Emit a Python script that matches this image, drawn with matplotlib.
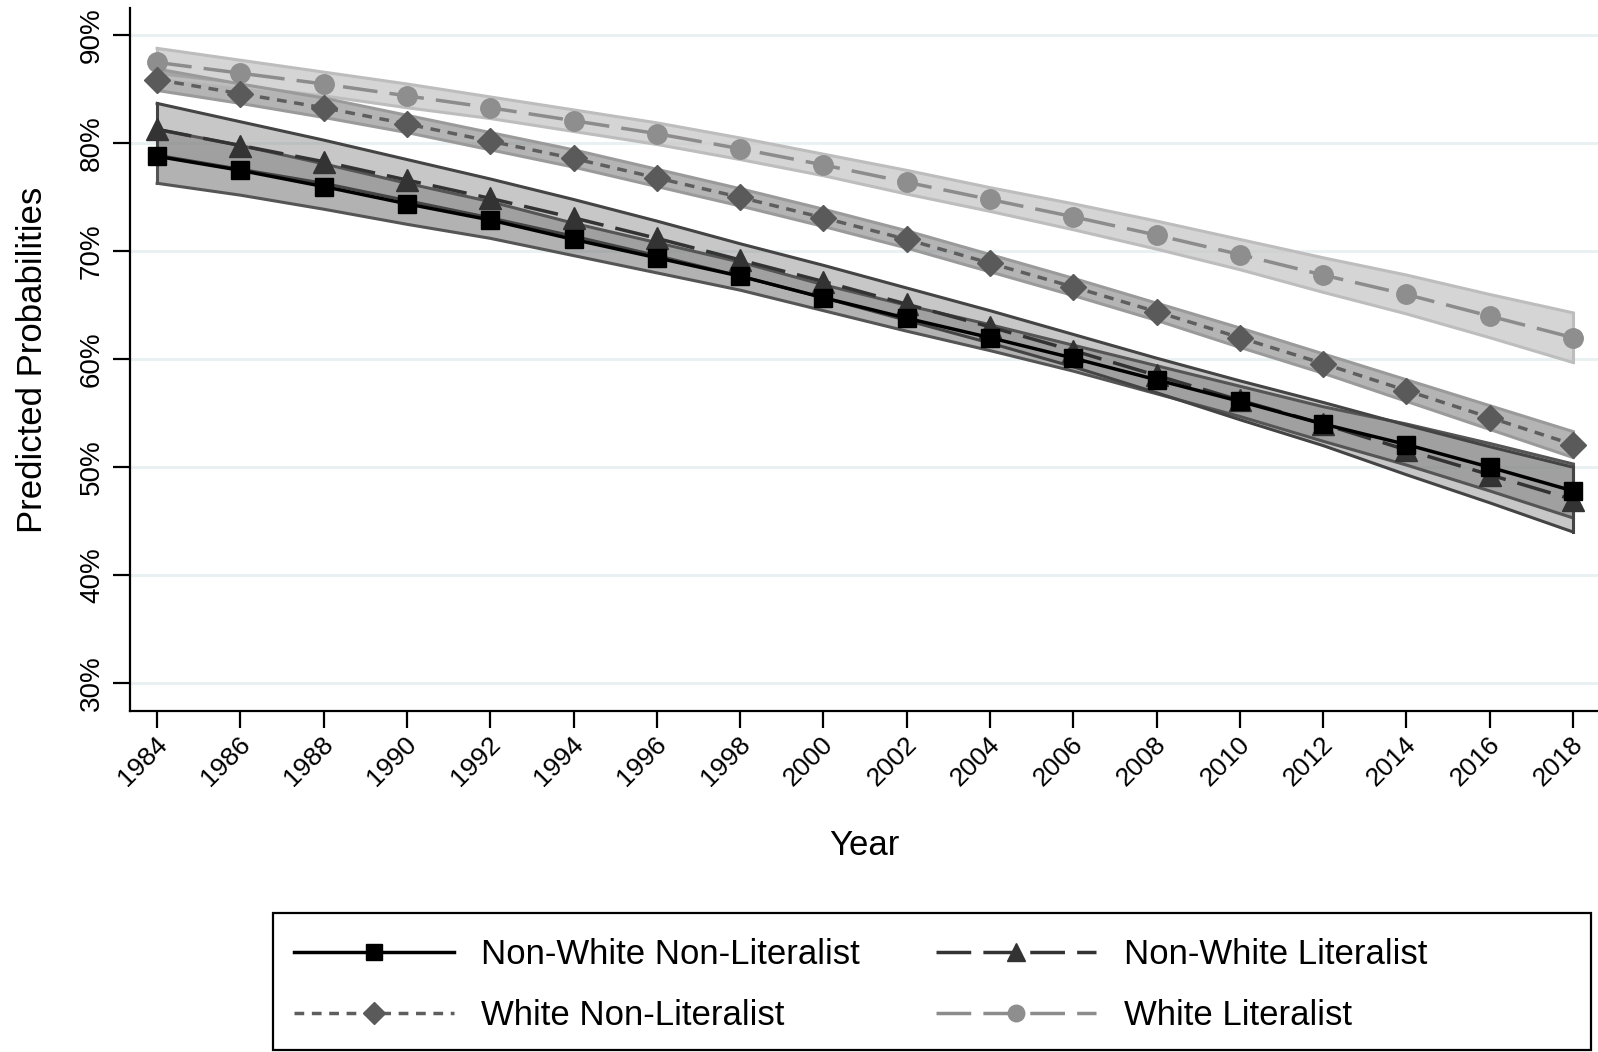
import numpy as np
import matplotlib.pyplot as plt
from matplotlib.patches import Rectangle
from matplotlib.ticker import FuncFormatter
from matplotlib.transforms import ScaledTranslation

plt.rcParams['font.family'] = ['Liberation Sans', 'DejaVu Sans']

years = list(range(1984, 2019, 2))

# predicted probabilities (%) by group
nw_nonlit = [78.8, 77.5, 76.0, 74.4, 72.9, 71.1, 69.4, 67.7, 65.7,
             63.8, 62.0, 60.1, 58.1, 56.1, 54.0, 52.1, 50.0, 47.8]
nw_lit = [81.3, 79.8, 78.3, 76.6, 74.9, 73.1, 71.2, 69.2, 67.2,
          65.1, 63.0, 60.8, 58.5, 56.2, 54.0, 51.6, 49.3, 47.0]
w_nonlit = [85.9, 84.6, 83.3, 81.8, 80.2, 78.6, 76.8, 75.0, 73.1,
            71.1, 68.9, 66.7, 64.4, 62.0, 59.6, 57.1, 54.6, 52.1]
w_lit = [87.5, 86.5, 85.5, 84.4, 83.3, 82.1, 80.9, 79.5, 78.0,
         76.4, 74.8, 73.2, 71.5, 69.7, 67.8, 66.0, 64.0, 62.0]

# half-width of the 95% confidence intervals
nw_nonlit_ci = [2.5, 2.3, 2.1, 1.9, 1.7, 1.5, 1.4, 1.3, 1.2,
                1.2, 1.2, 1.2, 1.3, 1.4, 1.6, 1.9, 2.2, 2.5]
nw_lit_ci = [2.4, 2.2, 2.0, 1.9, 1.8, 1.7, 1.6, 1.5, 1.5,
             1.5, 1.5, 1.5, 1.6, 1.8, 2.0, 2.3, 2.6, 3.0]
w_nonlit_ci = [1.0, 0.9, 0.9, 0.8, 0.8, 0.8, 0.8, 0.8, 0.8,
               0.8, 0.8, 0.8, 0.8, 0.9, 0.9, 1.0, 1.1, 1.2]
w_lit_ci = [1.3, 1.2, 1.1, 1.1, 1.0, 1.0, 1.0, 1.0, 1.0,
            1.1, 1.1, 1.2, 1.3, 1.4, 1.6, 1.8, 2.0, 2.3]

yticks = [30, 40, 50, 60, 70, 80, 90]

fig = plt.figure(figsize=(15.98, 10.52), dpi=100)
ax = fig.add_axes([0.0814, 0.324, 0.9186, 0.668])

x = np.array(years)

def band(vals, ci, face, edge, alpha):
    v = np.array(vals)
    c = np.array(ci)
    ax.fill_between(x, v - c, v + c, facecolor=face, alpha=alpha,
                    edgecolor='none', zorder=2)
    ax.plot(x, v + c, color=edge, lw=2.2, zorder=2.5)
    ax.plot(x, v - c, color=edge, lw=2.2, zorder=2.5)
    ax.plot([x[0], x[0]], [v[0] - c[0], v[0] + c[0]], color=edge, lw=2.2, zorder=2.5)
    ax.plot([x[-1], x[-1]], [v[-1] - c[-1], v[-1] + c[-1]], color=edge, lw=2.2, zorder=2.5)

band(w_lit, w_lit_ci, '#c8c8c8', '#bdbdbd', 0.75)
band(w_nonlit, w_nonlit_ci, '#8c8c8c', '#9a9a9a', 0.65)
band(nw_nonlit, nw_nonlit_ci, '#808080', '#555555', 0.6)
band(nw_lit, nw_lit_ci, '#909090', '#444444', 0.5)

ax.plot(x, w_lit, color='#8c8c8c', lw=2.5, ls=(0, (10, 3.5)),
        marker='o', ms=14, mfc='#8e8e8e', mec='#8e8e8e', zorder=3,
        label='White Literalist')
ax.plot(x, w_nonlit, color='#5e5e5e', lw=2.5, ls=(0, (2.8, 2.2)),
        marker='D', ms=13, mfc='#5a5a5a', mec='#5a5a5a', zorder=3,
        label='White Non-Literalist')
ax.plot(x, nw_lit, color='#333333', lw=2.5, ls=(0, (10, 3.5)),
        marker='^', ms=16, mfc='#333333', mec='#333333', zorder=4,
        label='Non-White Literalist')
ax.plot(x, nw_nonlit, color='black', lw=2.5, ls='-',
        marker='s', ms=13, mfc='black', mec='black', zorder=4,
        label='Non-White Non-Literalist')

ax.set_xlim(1983.35, 2018.6)
ax.set_ylim(27.4, 92.5)
ax.set_xticks(years)
ax.set_xticklabels([str(y) for y in years], rotation=45, ha='right',
                   va='center', rotation_mode='anchor')
ax.set_yticks(yticks)
ax.yaxis.set_major_formatter(FuncFormatter(lambda v, p: f'{v:.0f}%'))
for lab in ax.get_yticklabels():
    lab.set_rotation(90)
    lab.set_va('center')
ax.tick_params(axis='both', direction='out', length=12, width=1.6,
               labelsize=19, pad=6)
ax.tick_params(axis='y', labelsize=20)
ax.tick_params(axis='x', pad=9)

# nudge the slanted year labels so they end just right of their ticks
shift = ScaledTranslation(0.06, 0, fig.dpi_scale_trans)
for lab in ax.get_xticklabels():
    lab.set_transform(lab.get_transform() + shift)

ax.grid(axis='y', color='#e8f0f2', lw=2, zorder=0)
ax.set_axisbelow(True)
for s in ['top', 'right']:
    ax.spines[s].set_visible(False)
for s in ['left', 'bottom']:
    ax.spines[s].set_linewidth(1.6)

ax.set_xlabel('Year', fontsize=25, labelpad=28)
ax.set_ylabel('Predicted Probabilities', fontsize=25, labelpad=22)

# legend: fixed frame below the plot, entries in two columns
fig.patches.append(Rectangle((0.1708, 0.0019), 0.8248, 0.130,
                             transform=fig.transFigure, fill=False,
                             edgecolor='black', lw=1.6))
handles, labels = ax.get_legend_handles_labels()
order = ['Non-White Non-Literalist', 'White Non-Literalist',
         'Non-White Literalist', 'White Literalist']
hmap = dict(zip(labels, handles))
leg = fig.legend([hmap[k] for k in order], order, ncol=2,
                 loc='center left', bbox_to_anchor=(0.173, 0.0637),
                 fontsize=25, handlelength=4.6, handletextpad=0.8,
                 borderpad=0, labelspacing=0.8, columnspacing=2.2,
                 frameon=False, markerscale=0.85)

fig.savefig('out.png', dpi=100)
